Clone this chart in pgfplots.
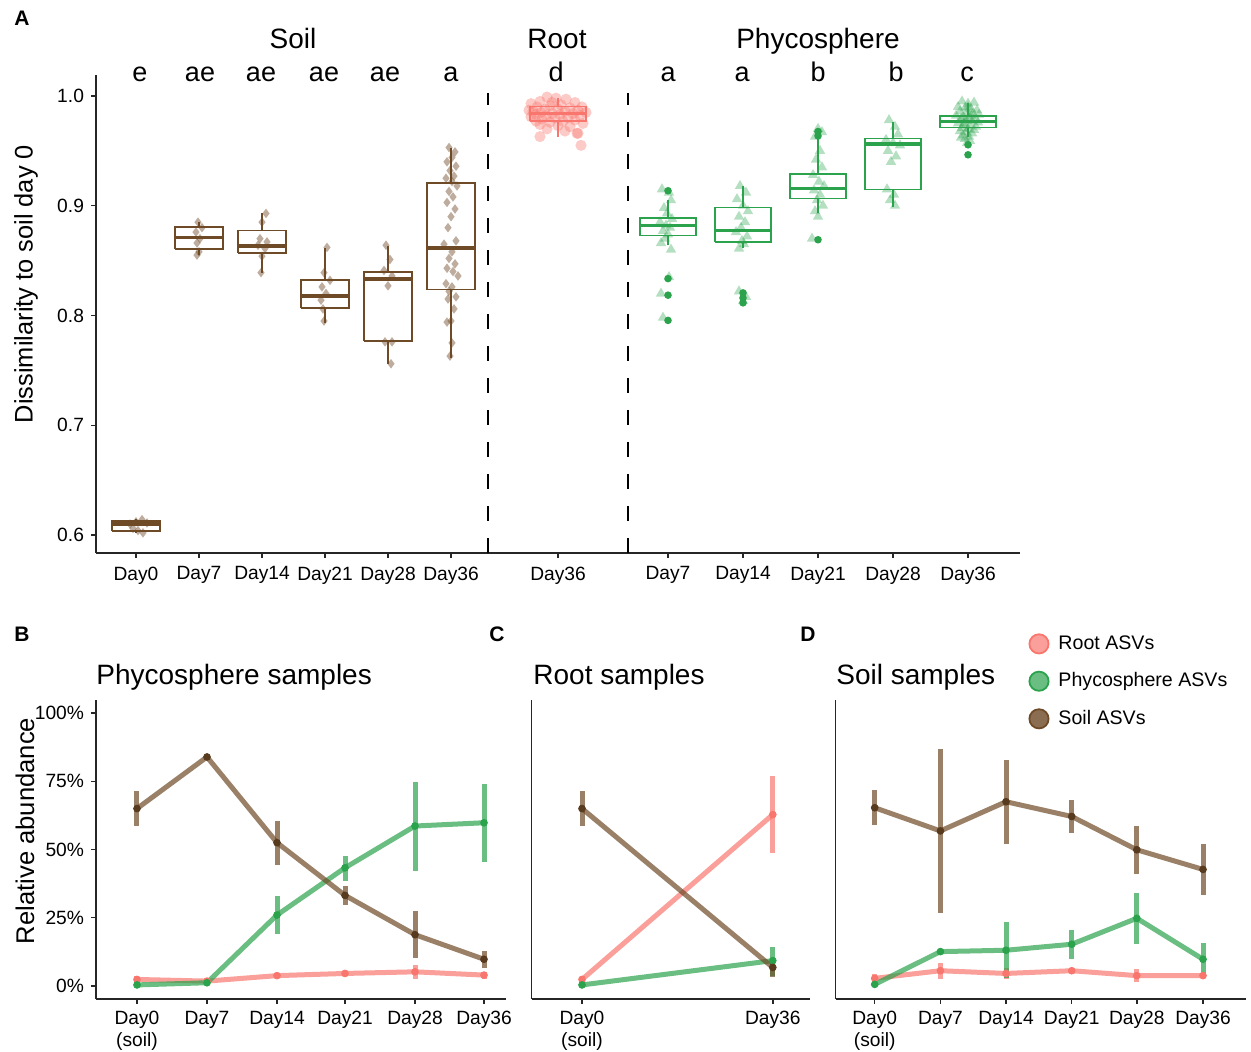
\documentclass[border=0pt]{standalone}
\usepackage{fontspec}
\setmainfont{Liberation Sans}
\usepackage{pgfplots}
\pgfplotsset{compat=1.18}

\definecolor{soilC}{HTML}{6E4A27}
\definecolor{phyC}{HTML}{2BA24C}
\definecolor{rootC}{HTML}{F8766D}

\pgfplotsset{
  gg/.style={
    scale only axis, anchor=south west, clip=false,
    axis lines*=left,
    axis line style={line width=0.7pt, black!85, -},
    tick style={line width=0.7pt, black!85},
    tick align=outside, major tick length=2.5pt,
    tick label style={font=\fontsize{9.6}{11}\selectfont},
    /pgf/number format/assume math mode=true,
  },
  sdot/.style={only marks, mark=diamond*, mark size=2.4pt,
    mark options={fill=soilC, fill opacity=0.45, draw opacity=0}},
  rdot/.style={only marks, mark=*, mark size=2.8pt,
    mark options={fill=rootC, fill opacity=0.38, draw opacity=0}},
  ptri/.style={only marks, mark=triangle*, mark size=3pt,
    mark options={fill=phyC, fill opacity=0.35, draw opacity=0}},
  pout/.style={only marks, mark=*, mark size=1.9pt,
    mark options={fill=phyC, draw opacity=0}},
  ln/.style={line width=2.5pt, draw opacity=0.7, line join=round,
    error bars/y dir=both, error bars/y explicit, error bars/error mark=none,
    error bars/error bar style={line width=2.5pt, opacity=0.7}},
  pt/.style={only marks, mark=*, mark size=1.7pt},
  abund/.style={gg, height=149.5pt, ymin=-4.76, ymax=104.76,
    xticklabel style={align=center}},
}

% box: colour, left, centre, right, lower whisker, lower quartile, median, upper quartile, upper whisker
\newcommand\bplot[9]{%
  \addplot[#1, line width=0.8pt] coordinates {(#2,#6) (#4,#6) (#4,#8) (#2,#8) (#2,#6)};
  \addplot[#1, line width=0.8pt] coordinates {(#3,#8) (#3,#9)};
  \addplot[#1, line width=0.8pt] coordinates {(#3,#5) (#3,#6)};
  \addplot[#1, line width=1.6pt] coordinates {(#2,#7) (#4,#7)};
}

\begin{document}
\begin{tikzpicture}
\useasboundingbox (0pt,0pt) rectangle (625.5pt,-526pt);

% ---------------- panel A (dissimilarity x 100) ----------------
\begin{axis}[gg, at={(48pt,-276.5pt)}, width=462pt, height=239pt,
  xmin=96, xmax=1020, ymin=58.36, ymax=101.91,
  xtick={136,199,262,325,388,451,558,668,743,818,893,968},
  xticklabels={Day0,Day7,Day14,Day21,Day28,Day36,Day36,Day7,Day14,Day21,Day28,Day36},
  xticklabel style={yshift=-0.8pt},
  ytick={60,70,80,90,100},
  yticklabels={0.6,0.7,0.8,0.9,1.0},
]
\addplot[black, line width=0.6pt, dash pattern=on 7.5pt off 8.5pt] coordinates {(488,58.36) (488,100.27)};
\addplot[black, line width=0.6pt, dash pattern=on 7.5pt off 8.5pt] coordinates {(628,58.36) (628,100.27)};

% soil boxes
\bplot{soilC}{112}{136}{160}{60.2}{60.36}{61.0}{61.28}{61.5}
\bplot{soilC}{175}{199}{223}{85.51}{86.06}{87.09}{88.04}{88.52}
\bplot{soilC}{238}{262}{286}{83.85}{85.69}{86.33}{87.76}{89.31}
\bplot{soilC}{301}{325}{349}{79.29}{80.68}{81.78}{83.21}{86.12}
\bplot{soilC}{364}{388}{412}{75.58}{77.68}{83.33}{83.94}{86.36}
\bplot{soilC}{427}{451}{475}{76.10}{82.35}{86.15}{92.05}{95.23}

\addplot[sdot] coordinates {(130,61.0) (136,61.2) (142,61.4) (147,61.1) (138,60.4) (143,60.2) (133,60.6)};
\addplot[sdot] coordinates {(198,88.5) (202,88.0) (196,87.6) (200,87.0) (197,86.6) (199,85.8) (197,85.5)};
\addplot[sdot] coordinates {(266,89.3) (262,88.5) (260,87.0) (267,86.7) (258,86.4) (265,86.1) (262,85.4) (261,83.9)};
\addplot[sdot] coordinates {(327,86.2) (324,83.9) (330,83.2) (322,82.6) (326,82.0) (321,81.4) (323,80.6) (324,79.5)};
\addplot[sdot] coordinates {(386,86.4) (390,85.1) (384,84.1) (392,83.6) (388,82.7) (385,77.6) (392,77.6) (391,75.6)};
\addplot[sdot] coordinates {(449,95.3) (455,94.9) (452,94.4) (447,94.0) (456,93.6) (450,93.2) (454,92.7) (446,92.5) (452,92.2) (457,91.8) (449,91.3) (453,90.8) (447,90.3) (455,89.7) (451,89.0) (448,88.0) (456,86.8) (444,86.5) (452,85.8) (449,85.2) (455,84.7) (447,84.3) (453,84.0) (458,83.6) (446,82.9) (452,82.6) (449,82.2) (456,81.7) (448,81.5) (454,80.6) (451,79.5) (447,79.4) (452,77.5) (450,76.3)};

% root
\bplot{rootC}{530}{558}{586}{96.3}{97.7}{98.38}{99.05}{99.8}
\addplot[rdot] coordinates {(547,99.9) (556,99.8) (566,99.7) (540,99.5) (575,99.4) (531,99.3) (561,99.2) (550,99.1) (582,99.0) (537,99.0) (570,98.9) (545,98.8) (558,98.8) (578,98.7) (533,98.6) (565,98.6) (541,98.5) (552,98.4) (573,98.4) (536,98.3) (560,98.3) (546,98.2) (580,98.2) (531,98.1) (555,98.0) (568,98.0) (542,97.9) (575,97.8) (536,97.7) (563,97.7) (550,97.6) (583,97.5) (540,97.4) (558,97.3) (570,97.2) (547,97.0) (565,96.8) (577,96.6) (540,96.3) (578,96.6) (581,95.5) (552,99.4) (529,98.7) (586,98.5)};

% phycosphere
\bplot{phyC}{640}{668}{696}{86.42}{87.27}{88.22}{88.86}{90.52}
\bplot{phyC}{715}{743}{771}{86.15}{86.70}{87.76}{89.82}{91.83}
\bplot{phyC}{790}{818}{846}{89.31}{90.64}{91.59}{92.89}{96.90}
\bplot{phyC}{865}{893}{921}{89.91}{91.46}{95.63}{96.11}{97.66}
\bplot{phyC}{940}{968}{996}{96.29}{97.11}{97.66}{98.18}{99.33}

\addplot[pout] coordinates {(668,91.36) (668,83.36) (668,81.85) (668,79.55) (743,82.06) (743,81.6) (743,81.15) (818,96.76) (818,96.36) (818,86.9) (968,95.55) (968,94.64)};
\addplot[ptri] coordinates {(662,91.5) (669,91.2) (671,90.5) (664,89.8) (667,89.3) (672,88.8) (660,88.5) (666,88.2) (670,88.0) (663,87.7) (668,87.4) (665,87.0) (661,86.6) (671,86.0) (669,83.5) (661,82.0) (663,79.8)};
\addplot[ptri] coordinates {(740,91.8) (746,91.2) (737,90.6) (743,90.0) (748,89.5) (739,89.0) (745,88.5) (741,88.0) (736,87.6) (747,87.2) (742,86.8) (744,86.5) (739,86.1) (739,82.2) (746,81.7) (743,81.3)};
\addplot[ptri] coordinates {(818,97.0) (822,96.7) (815,96.3) (820,95.0) (816,94.2) (822,93.5) (813,92.8) (819,92.2) (824,91.8) (814,91.4) (820,91.0) (817,90.5) (823,90.0) (815,89.5) (818,89.0) (812,87.0)};
\addplot[ptri] coordinates {(889,97.8) (895,97.2) (898,96.5) (886,96.0) (893,95.7) (900,95.5) (888,95.0) (896,94.5) (891,94.0) (887,91.5) (894,91.0) (890,90.5) (895,90.0)};
\addplot[ptri] coordinates {(962,99.5) (968,99.3) (974,99.4) (958,99.0) (965,98.9) (971,98.8) (977,98.7) (960,98.6) (967,98.5) (973,98.4) (979,98.3) (956,98.2) (963,98.1) (969,98.0) (975,98.0) (961,97.9) (966,97.8) (972,97.7) (978,97.6) (958,97.5) (964,97.4) (970,97.3) (976,97.2) (962,97.1) (968,97.0) (974,96.9) (960,96.8) (966,96.7) (972,96.6) (963,96.4) (969,96.3) (965,96.1) (970,95.9) (967,95.7) (964,97.5) (971,98.2) (968,99.0) (961,96.2)};
\end{axis}

% ---------------- panel B ----------------
\begin{axis}[abund, at={(48pt,-499.5pt)}, width=205pt,
  xmin=96, xmax=506,
  xtick={137,207,277,345,415,484},
  xticklabels={{Day0\\(soil)},Day7,Day14,Day21,Day28,Day36},
  ytick={0,25,50,75,100},
  yticklabels={0\%,25\%,50\%,75\%,100\%},
]
\addplot[rootC, ln] coordinates {(137,2.4) +- (0,1.2) (207,1.8) +- (0,0.3) (277,3.8) +- (0,0.5) (345,4.6) +- (0,0.5) (415,5.2) += (0,2.5) -= (0,2.8) (484,4.0) +- (0,1.3)};
\addplot[phyC, ln] coordinates {(137,0.4) +- (0,0.3) (207,1.2) +- (0,0.3) (277,26.0) +- (0,7.0) (345,43.3) += (0,4.3) -= (0,4.8) (415,58.6) += (0,16.2) -= (0,16.4) (484,59.8) += (0,14.1) -= (0,14.3)};
\addplot[soilC, ln] coordinates {(137,65.0) +- (0,6.5) (207,83.9) += (0,0.6) -= (0,0.9) (277,52.5) +- (0,8.0) (345,33.2) +- (0,3.5) (415,18.8) +- (0,8.7) (484,9.8) += (0,3.0) -= (0,3.3)};
\addplot[pt, rootC] coordinates {(137,2.4) (207,1.8) (277,3.8) (345,4.6) (415,5.2) (484,4.0)};
\addplot[pt, phyC] coordinates {(137,0.4) (207,1.2) (277,26.0) (345,43.3) (415,58.6) (484,59.8)};
\addplot[pt, soilC!80!black] coordinates {(137,65.0) (207,83.9) (277,52.5) (345,33.2) (415,18.8) (484,9.8)};
\end{axis}

% ---------------- panel C ----------------
\begin{axis}[abund, at={(265.8pt,-499.5pt)}, width=139.2pt,
  xmin=531.6, xmax=810,
  xtick={582,772.8},
  xticklabels={{Day0\\(soil)},Day36},
  ytick=\empty,
]
\addplot[rootC, ln] coordinates {(582,2.4) +- (0,1.2) (772.8,62.8) +- (0,14.1)};
\addplot[phyC, ln] coordinates {(582,0.4) +- (0,0.3) (772.8,9.3) += (0,4.9) -= (0,5.6)};
\addplot[soilC, ln] coordinates {(582,65.0) +- (0,6.5) (772.8,6.8) += (0,2.1) -= (0,3.4)};
\addplot[pt, rootC] coordinates {(582,2.4) (772.8,62.8)};
\addplot[pt, phyC] coordinates {(582,0.4) (772.8,9.3)};
\addplot[pt, soilC!80!black] coordinates {(582,65.0) (772.8,6.8)};
\end{axis}

% ---------------- panel D ----------------
\begin{axis}[abund, at={(417.8pt,-499.5pt)}, width=205.2pt,
  xmin=835.6, xmax=1246,
  xtick={874.7,940.4,1006,1071.7,1136.8,1203},
  xticklabels={{Day0\\(soil)},Day7,Day14,Day21,Day28,Day36},
  ytick=\empty,
  legend style={at={(rel axis cs:0.469,1.227)}, anchor=north west, draw=none, fill=none,
    font=\fontsize{9.8}{11}\selectfont, row sep=7.2pt, inner sep=0pt,
    nodes={inner sep=1.5pt},
    /tikz/every odd column/.append style={column sep=3pt}},
  legend cell align=left,
  legend image code/.code={\draw[#1] (0.25cm,0cm) circle (4.8pt);},
]
\addlegendimage{draw=rootC, fill=rootC, fill opacity=0.7, line width=0.9pt}
\addlegendentry{Root ASVs}
\addlegendimage{draw=phyC, fill=phyC, fill opacity=0.7, line width=0.9pt}
\addlegendentry{Phycosphere ASVs}
\addlegendimage{draw=soilC, fill=soilC, fill opacity=0.8, line width=0.9pt}
\addlegendentry{Soil ASVs}
\addplot[forget plot, rootC, ln] coordinates {(874.7,2.8) +- (0,1.6) (940.4,5.6) +- (0,3.0) (1006,4.6) +- (0,2.0) (1071.7,5.6) +- (0,0.5) (1136.8,3.8) +- (0,2.5) (1203,3.8) +- (0,0.5)};
\addplot[forget plot, phyC, ln] coordinates {(874.7,0.6) +- (0,0.3) (940.4,12.6) +- (0,0.3) (1006,13.1) +- (0,10.2) (1071.7,15.3) +- (0,5.3) (1136.8,24.8) +- (0,9.3) (1203,9.8) += (0,5.8) -= (0,4.9)};
\addplot[forget plot, soilC, ln] coordinates {(874.7,65.3) +- (0,6.5) (940.4,56.8) +- (0,30.1) (1006,67.5) +- (0,15.3) (1071.7,62.1) +- (0,5.9) (1136.8,49.9) +- (0,8.8) (1203,42.7) +- (0,9.4)};
\addplot[forget plot, pt, rootC] coordinates {(874.7,2.8) (940.4,5.6) (1006,4.6) (1071.7,5.6) (1136.8,3.8) (1203,3.8)};
\addplot[forget plot, pt, phyC] coordinates {(874.7,0.6) (940.4,12.6) (1006,13.1) (1071.7,15.3) (1136.8,24.8) (1203,9.8)};
\addplot[forget plot, pt, soilC!80!black] coordinates {(874.7,65.3) (940.4,56.8) (1006,67.5) (1071.7,62.1) (1136.8,49.9) (1203,42.7)};
\end{axis}

% ---------------- text ----------------
\begin{scope}[x=0.5pt, y=-0.5pt]
\node[font=\bfseries\fontsize{10.5}{12}\selectfont] at (22,18) {A};
\node[font=\bfseries\fontsize{10.5}{12}\selectfont] at (22,634) {B};
\node[font=\bfseries\fontsize{10.5}{12}\selectfont] at (497,634) {C};
\node[font=\bfseries\fontsize{10.5}{12}\selectfont] at (808,634) {D};
\node[rotate=90, font=\fontsize{12.7}{14}\selectfont] at (26,284) {Dissimilarity to soil day 0};
\node[rotate=90, font=\fontsize{12.8}{14}\selectfont] at (25,831) {Relative abundance};
\begin{scope}[every node/.style={anchor=base, inner sep=0pt, font=\fontsize{14}{16}\selectfont}]
\node at (293,49) {Soil};
\node at (557,49) {Root};
\node at (818,49) {Phycosphere};
\end{scope}
\begin{scope}[every node/.style={anchor=base west, inner sep=0pt, font=\fontsize{14}{16}\selectfont}]
\node at (96,684) {Phycosphere samples};
\node at (533,684) {Root samples};
\node at (836,684) {Soil samples};
\end{scope}
\begin{scope}[every node/.style={anchor=base, inner sep=0pt, font=\fontsize{13.5}{15}\selectfont}]
\node at (140,81.5) {e};
\node at (200,81.5) {ae};
\node at (261,81.5) {ae};
\node at (324,81.5) {ae};
\node at (385,81.5) {ae};
\node at (451,81.5) {a};
\node at (556,81.5) {d};
\node at (668,81.5) {a};
\node at (742,81.5) {a};
\node at (818,81.5) {b};
\node at (896,81.5) {b};
\node at (967,81.5) {c};
\end{scope}
\end{scope}
\end{tikzpicture}
\end{document}
